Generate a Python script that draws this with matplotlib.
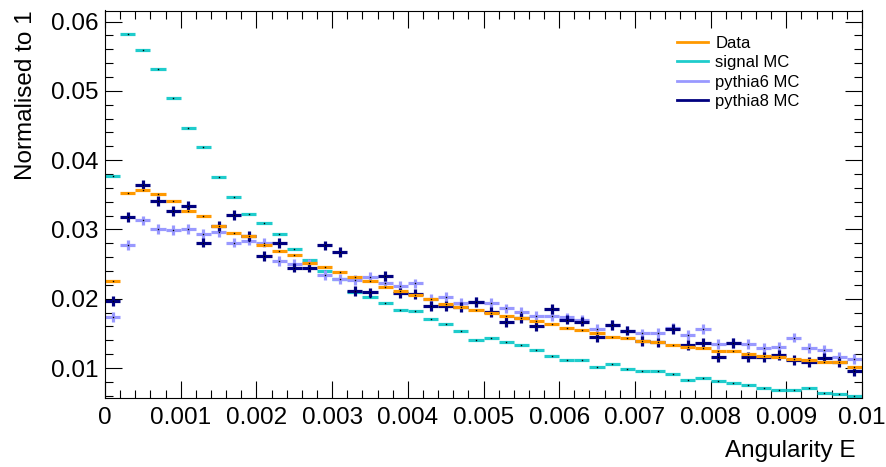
import numpy as np
import matplotlib
matplotlib.use('Agg')
import matplotlib.pyplot as plt
from matplotlib.lines import Line2D
from matplotlib.ticker import MultipleLocator

plt.rcParams['font.family'] = ['Liberation Sans', 'DejaVu Sans']

# binning of the histograms
x_min, x_max, n_bins = 0.0, 0.01, 50

data = [0.0226, 0.0353, 0.0357, 0.0351, 0.0341, 0.0326, 0.0320, 0.0305, 0.0295, 0.0291,
        0.0277, 0.0269, 0.0263, 0.0252, 0.0246, 0.0238, 0.0232, 0.0226, 0.0217, 0.0211,
        0.0205, 0.0200, 0.0192, 0.0188, 0.0184, 0.0180, 0.0175, 0.0172, 0.0168, 0.0164,
        0.0158, 0.0155, 0.0151, 0.0145, 0.0143, 0.0139, 0.0137, 0.0133, 0.0131, 0.0129,
        0.0125, 0.0124, 0.0120, 0.0118, 0.0116, 0.0113, 0.0112, 0.0109, 0.0108, 0.0102]

signal_mc = [0.0377, 0.0582, 0.0559, 0.0532, 0.0489, 0.0446, 0.0419, 0.0376, 0.0347, 0.0322,
             0.0310, 0.0293, 0.0272, 0.0256, 0.0240, 0.0229, 0.0210, 0.0203, 0.0194, 0.0184,
             0.0182, 0.0171, 0.0164, 0.0153, 0.0140, 0.0143, 0.0137, 0.0133, 0.0126, 0.0118,
             0.0111, 0.0111, 0.0102, 0.0106, 0.0098, 0.0095, 0.0095, 0.0091, 0.0083, 0.0085,
             0.0081, 0.0079, 0.0075, 0.0071, 0.0068, 0.0068, 0.0071, 0.0064, 0.0063, 0.0060]

pythia6_mc = [0.0174, 0.0278, 0.0313, 0.0301, 0.0299, 0.0301, 0.0293, 0.0296, 0.0281, 0.0284,
              0.0281, 0.0254, 0.0250, 0.0251, 0.0234, 0.0228, 0.0227, 0.0231, 0.0222, 0.0219,
              0.0222, 0.0200, 0.0203, 0.0194, 0.0195, 0.0194, 0.0186, 0.0181, 0.0175, 0.0175,
              0.0173, 0.0170, 0.0157, 0.0162, 0.0154, 0.0150, 0.0151, 0.0158, 0.0148, 0.0156,
              0.0135, 0.0136, 0.0135, 0.0129, 0.0131, 0.0144, 0.0129, 0.0126, 0.0116, 0.0113]

pythia8_mc = [0.0197, 0.0318, 0.0364, 0.0341, 0.0327, 0.0334, 0.0281, 0.0305, 0.0321, 0.0291,
              0.0262, 0.0280, 0.0245, 0.0245, 0.0277, 0.0267, 0.0211, 0.0209, 0.0233, 0.0208,
              0.0207, 0.0189, 0.0189, 0.0188, 0.0195, 0.0181, 0.0166, 0.0172, 0.0160, 0.0185,
              0.0170, 0.0167, 0.0145, 0.0162, 0.0154, 0.0139, 0.0137, 0.0156, 0.0133, 0.0136,
              0.0116, 0.0136, 0.0116, 0.0116, 0.0119, 0.0112, 0.0109, 0.0114, 0.0108, 0.0095]

# rough statistical error per bin for each sample
data_err = 0.00012
signal_err = 0.0001
pythia6_err = 0.0007
pythia8_err = 0.0007

labels = ['Data', 'signal MC', 'pythia6 MC', 'pythia8 MC']
colors = ['#ff9900', '#1fcccc', '#9999ff', '#00007f']

x_ticks = [0, 0.001, 0.002, 0.003, 0.004, 0.005, 0.006, 0.007, 0.008, 0.009, 0.01]
x_tick_labels = ['0', '0.001', '0.002', '0.003', '0.004', '0.005', '0.006', '0.007', '0.008', '0.009', '0.01']
y_ticks = [0.01, 0.02, 0.03, 0.04, 0.05, 0.06]
y_tick_labels = ['0.01', '0.02', '0.03', '0.04', '0.05', '0.06']

edges = np.linspace(x_min, x_max, n_bins + 1)
centers = 0.5 * (edges[1:] + edges[:-1])
half_width = 0.5 * (edges[1] - edges[0])

W, H = 887, 467
fig = plt.figure(figsize=(W / 100, H / 100), dpi=100)
ax = fig.add_axes([105 / W, 1 - 398 / H, (862 - 105) / W, (398 - 10.5) / H])

# drawing order: signal, pythia6, pythia8, data on top
order = [(signal_mc, signal_err, colors[1]),
         (pythia6_mc, pythia6_err, colors[2]),
         (pythia8_mc, pythia8_err, colors[3]),
         (data, data_err, colors[0])]
for vals, err, col in order:
    ax.errorbar(centers, vals, xerr=half_width, yerr=err, fmt='none',
                ecolor=col, elinewidth=2.3, capsize=0)
    ax.plot(centers, vals, linestyle='none', marker='s', markersize=1.0,
            color='k', markeredgewidth=0)

ax.set_xlim(x_min, x_max)
ax.set_ylim(0.00567, 0.0616)

ax.set_xticks(x_ticks)
ax.set_xticklabels(x_tick_labels)
ax.set_yticks(y_ticks)
ax.set_yticklabels(y_tick_labels)
ax.xaxis.set_minor_locator(MultipleLocator(0.0002))
ax.yaxis.set_minor_locator(MultipleLocator(0.002))

ax.tick_params(which='both', direction='in', top=True, right=True, width=0.8, color='k')
ax.tick_params(which='major', length=12, labelsize=17.5)
ax.tick_params(which='minor', length=6)
ax.tick_params(axis='x', which='major', pad=6.5)
ax.tick_params(axis='y', which='major', pad=5)
for sp in ax.spines.values():
    sp.set_linewidth(0.8)

ax.set_xlabel('Angularity E', fontsize=17.5, loc='right')
ax.xaxis.set_label_coords(0.992, -0.108)
ax.set_ylabel('Normalised to 1', fontsize=17.5, loc='top')
ax.yaxis.set_label_coords(-0.09, 1.0)

handles = [Line2D([0], [0], color=c, lw=2) for c in colors]
ax.legend(handles, labels, loc='upper left', bbox_to_anchor=(677 / W, 1 - 36 / H),
          bbox_transform=fig.transFigure, frameon=False, fontsize=12,
          handlelength=1.85, handletextpad=0.45, labelspacing=0.26,
          borderpad=0, borderaxespad=0)

fig.savefig('out.png', dpi=100)
